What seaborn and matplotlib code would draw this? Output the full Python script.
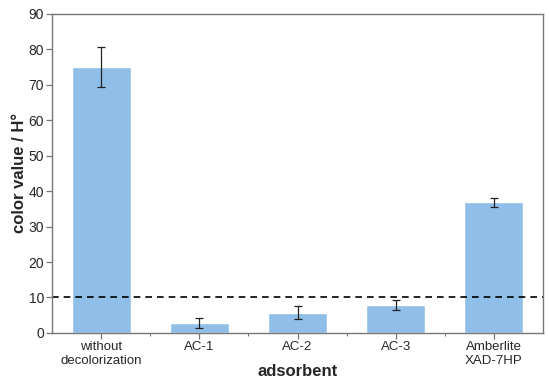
import matplotlib

matplotlib.use("Agg")
import matplotlib.pyplot as plt
import numpy as np
import pandas as pd
import seaborn as sns
from matplotlib.ticker import FixedLocator

adsorbents = ["without\ndecolorization", "AC-1", "AC-2", "AC-3", "Amberlite\nXAD-7HP"]
color_value = [75.0, 2.8, 5.7, 7.9, 36.8]
color_err = [5.7, 1.4, 1.9, 1.4, 1.3]
threshold = 10

sns.set_theme(style="white")
plt.rcParams["font.family"] = ["Liberation Sans", "DejaVu Sans"]

df = pd.DataFrame({"adsorbent": adsorbents, "value": color_value, "err": color_err})

fig, ax = plt.subplots(figsize=(5.5, 3.88), dpi=100)
sns.barplot(data=df, x="adsorbent", y="value", color="#8fbfe8", saturation=1,
            width=0.6, errorbar=None, ax=ax)
ax.errorbar(np.arange(len(df)), df["value"], yerr=df["err"], fmt="none",
            ecolor="#222222", elinewidth=0.9, capsize=3, capthick=0.9)
ax.axhline(threshold, color="black", linestyle=(0, (4, 3)), linewidth=1.2)

ax.set_xlim(-0.5, len(df) - 0.5)
ax.set_ylim(0, 90)
ax.set_yticks(range(0, 91, 10))
ax.xaxis.set_minor_locator(FixedLocator(np.arange(0.5, len(df) - 1, 1)))
ax.tick_params(axis="both", which="major", direction="out", length=4, width=0.9,
               color="#777777", labelsize=10, pad=2, bottom=True, left=True)
ax.tick_params(axis="x", which="major", labelsize=9.5)
ax.tick_params(axis="x", which="minor", direction="out", length=2, width=0.8,
               color="#777777", bottom=True)
for spine in ax.spines.values():
    spine.set_color("#777777")
    spine.set_linewidth(1.0)

ax.set_xlabel("adsorbent", fontsize=12, fontweight="bold", labelpad=-2)
ax.set_ylabel("color value / H°", fontsize=12, fontweight="bold", labelpad=1)

fig.subplots_adjust(left=0.095, right=0.987, top=0.964, bottom=0.142)
fig.savefig("out.png", dpi=100)
